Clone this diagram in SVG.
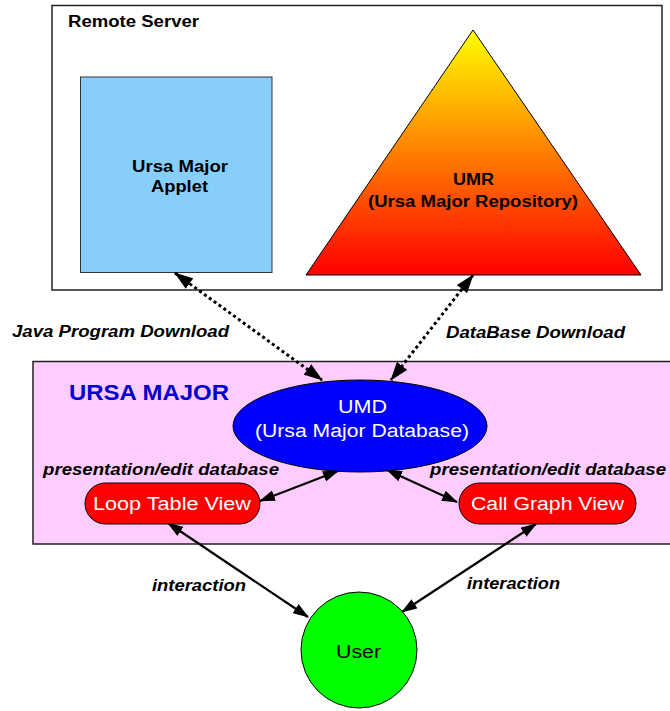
<svg xmlns="http://www.w3.org/2000/svg" width="670" height="711" viewBox="0 0 670 711">
<style>
.t{font-family:"Liberation Sans",Arial,sans-serif}
.b{font-weight:bold}
.bi{font-weight:bold;font-style:italic;font-size:16px}
.dot{fill:none;stroke:#000;stroke-width:3;stroke-dasharray:3 3;marker-start:url(#ad);marker-end:url(#ad)}
.sol{fill:none;stroke:#000;stroke-width:2.2;marker-start:url(#as);marker-end:url(#as)}
</style>
<defs>
<linearGradient id="g" x1="0" y1="0" x2="0" y2="1">
<stop offset="0" stop-color="#FFFF00"/>
<stop offset="1" stop-color="#FF0000"/>
</linearGradient>
<marker id="ad" markerUnits="userSpaceOnUse" viewBox="0 0 19 13" markerWidth="19" markerHeight="13" refX="18" refY="6.5" orient="auto-start-reverse">
<path d="M0,0 L19,6.5 L0,13 z" fill="#000"/>
</marker>
<marker id="as" markerUnits="userSpaceOnUse" viewBox="0 0 16 11" markerWidth="16" markerHeight="11" refX="15" refY="5.5" orient="auto-start-reverse">
<path d="M0,0 L16,5.5 L0,11 z" fill="#000"/>
</marker>
</defs>
<rect width="670" height="711" fill="#fff"/>
<g id="remote-server">
<rect x="52" y="5.5" width="610" height="284.5" fill="#fff" stroke="#222" stroke-width="1.5"/>
<text class="t b" x="68" y="27" font-size="16" textLength="131" lengthAdjust="spacingAndGlyphs">Remote Server</text>
</g>
<g id="applet">
<rect x="80.5" y="77" width="191.5" height="195.5" fill="#87CEFA" stroke="#333" stroke-width="1"/>
<text class="t b" x="132" y="172" font-size="16" textLength="96" lengthAdjust="spacingAndGlyphs">Ursa Major</text>
<text class="t b" x="151" y="192" font-size="16" textLength="57" lengthAdjust="spacingAndGlyphs">Applet</text>
</g>
<g id="umr">
<polygon points="473,30 306,275 641,275" fill="url(#g)" stroke="#000" stroke-width="1"/>
<text class="t b" x="453" y="185" font-size="16" textLength="41" lengthAdjust="spacingAndGlyphs">UMR</text>
<text class="t b" x="368" y="207" font-size="16" textLength="210" lengthAdjust="spacingAndGlyphs">(Ursa Major Repository)</text>
</g>
<g id="ursa-major">
<rect x="33" y="361.5" width="660" height="182.5" fill="#FFCCFF" stroke="#222" stroke-width="1.5"/>
<text class="t b" x="69" y="400" font-size="22" fill="#0000CC" textLength="160" lengthAdjust="spacingAndGlyphs">URSA MAJOR</text>
</g>
<g id="connectors">
<line class="dot" x1="175" y1="273" x2="322" y2="380"/>
<line class="dot" x1="473" y1="275" x2="391" y2="380"/>
<line class="sol" x1="260" y1="501" x2="338" y2="471"/>
<line class="sol" x1="387" y1="470" x2="457" y2="502"/>
<line class="sol" x1="168" y1="523" x2="308" y2="617"/>
<line class="sol" x1="536" y1="524" x2="402" y2="612"/>
<text class="t bi" x="12" y="337" textLength="217" lengthAdjust="spacingAndGlyphs">Java Program Download</text>
<text class="t bi" x="446" y="338" textLength="179" lengthAdjust="spacingAndGlyphs">DataBase Download</text>
<text class="t bi" x="43" y="475" textLength="236" lengthAdjust="spacingAndGlyphs">presentation/edit database</text>
<text class="t bi" x="430" y="475" textLength="236" lengthAdjust="spacingAndGlyphs">presentation/edit database</text>
<text class="t bi" x="152" y="591" textLength="94" lengthAdjust="spacingAndGlyphs">interaction</text>
<text class="t bi" x="467" y="589" textLength="93" lengthAdjust="spacingAndGlyphs">interaction</text>
</g>
<g id="umd">
<ellipse cx="360" cy="426" rx="127" ry="46" fill="#0000FF" stroke="#000" stroke-width="1"/>
<text class="t" x="338" y="413" font-size="18" fill="#fff" textLength="49" lengthAdjust="spacingAndGlyphs">UMD</text>
<text class="t" x="255" y="437" font-size="18" fill="#fff" textLength="214" lengthAdjust="spacingAndGlyphs">(Ursa Major Database)</text>
</g>
<g id="loop-table-view">
<rect x="85" y="483" width="175" height="41" rx="20.5" fill="#FF0000" stroke="#000" stroke-width="1"/>
<text class="t" x="93" y="510" font-size="18" fill="#fff" textLength="158" lengthAdjust="spacingAndGlyphs">Loop Table View</text>
</g>
<g id="call-graph-view">
<rect x="459" y="483" width="177" height="41" rx="20.5" fill="#FF0000" stroke="#000" stroke-width="1"/>
<text class="t" x="471" y="510" font-size="18" fill="#fff" textLength="153" lengthAdjust="spacingAndGlyphs">Call Graph View</text>
</g>
<g id="user">
<circle cx="359" cy="650" r="58" fill="#00FF00" stroke="#000" stroke-width="1"/>
<text class="t" x="336" y="658" font-size="18" fill="#000" textLength="45" lengthAdjust="spacingAndGlyphs">User</text>
</g>
</svg>
